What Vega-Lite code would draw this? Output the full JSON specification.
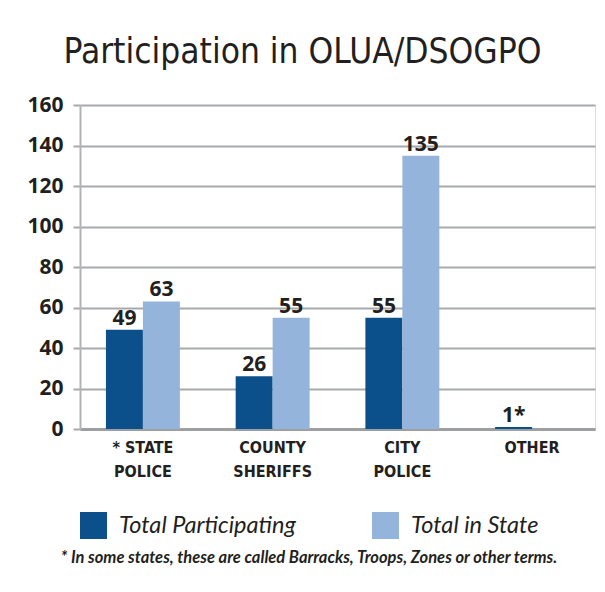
{
  "$schema": "https://vega.github.io/schema/vega-lite/v6.json",
  "width": 515,
  "height": 324,
  "autosize": "none",
  "padding": {"left": 80, "top": 105, "right": 10, "bottom": 163},
  "background": "white",
  "title": {
    "text": "Participation in OLUA/DSOGPO",
    "font": "DejaVu Sans Condensed",
    "fontSize": 35,
    "fontWeight": "normal",
    "color": "#231f20",
    "anchor": "middle",
    "frame": "group",
    "dx": -35,
    "offset": 24
  },
  "data": {
    "values": [
      {"category": "* STATE POLICE", "series": "Total Participating", "value": 49, "label": "49"},
      {"category": "* STATE POLICE", "series": "Total in State", "value": 63, "label": "63"},
      {"category": "COUNTY SHERIFFS", "series": "Total Participating", "value": 26, "label": "26"},
      {"category": "COUNTY SHERIFFS", "series": "Total in State", "value": 55, "label": "55"},
      {"category": "CITY POLICE", "series": "Total Participating", "value": 55, "label": "55"},
      {"category": "CITY POLICE", "series": "Total in State", "value": 135, "label": "135"},
      {"category": "OTHER", "series": "Total Participating", "value": 1, "label": "1*"}
    ]
  },
  "encoding": {
    "x": {
      "field": "category",
      "type": "nominal",
      "sort": ["* STATE POLICE", "COUNTY SHERIFFS", "CITY POLICE", "OTHER"],
      "scale": {"paddingInner": 0.43, "paddingOuter": 0.2},
      "axis": {
        "title": null,
        "labelAngle": 0,
        "labelFont": "DejaVu Sans Condensed",
        "labelFontSize": 16,
        "labelFontWeight": "bold",
        "labelColor": "#231f20",
        "labelPadding": 10,
        "labelLineHeight": 24,
        "labelBaseline": "top",
        "ticks": false,
        "domainColor": "#9d9fa2",
        "domainWidth": 3,
        "labelExpr": "lastindexof(datum.label, ' ') > 0 ? [slice(datum.label, 0, lastindexof(datum.label, ' ')), slice(datum.label, lastindexof(datum.label, ' ') + 1)] : datum.label"
      }
    },
    "xOffset": {
      "field": "series",
      "type": "nominal",
      "sort": ["Total Participating", "Total in State"],
      "scale": {"paddingInner": 0, "paddingOuter": 0}
    },
    "y": {
      "field": "value",
      "type": "quantitative",
      "scale": {"domain": [0, 160], "nice": false},
      "axis": {
        "title": null,
        "values": [0, 20, 40, 60, 80, 100, 120, 140, 160],
        "labelFont": "Open Sans",
        "labelFontSize": 21,
        "labelFontWeight": "bold",
        "labelColor": "#231f20",
        "labelPadding": 10,
        "tickSize": 7,
        "tickColor": "#a7a9ac",
        "tickWidth": 2,
        "gridColor": "#a7a9ac",
        "gridWidth": 2,
        "domainColor": "#b1b3b6",
        "domainWidth": 2
      }
    }
  },
  "layer": [
    {
      "mark": {"type": "bar"},
      "encoding": {
        "color": {
          "field": "series",
          "type": "nominal",
          "scale": {"domain": ["Total Participating", "Total in State"], "range": ["#0b4f8b", "#95b4db"]},
          "legend": {
            "orient": "none",
            "legendX": -20,
            "legendY": 407,
            "direction": "horizontal",
            "title": "* In some states, these are called Barracks, Troops, Zones or other terms.",
            "titleOrient": "bottom",
            "titleAnchor": "middle",
            "titleFont": "Lato",
            "titleFontSize": 16.5,
            "titleFontWeight": "bold",
            "titleFontStyle": "italic",
            "titleColor": "#231f20",
            "titlePadding": 11,
            "titleLimit": 700,
            "labelFont": "Lato",
            "labelFontSize": 23.5,
            "labelFontStyle": "italic",
            "labelColor": "#231f20",
            "labelLimit": 300,
            "labelOffset": 12,
            "symbolType": "square",
            "symbolSize": 729,
            "symbolStrokeWidth": 0,
            "symbolOpacity": 1,
            "columnPadding": 76,
            "padding": 0
          }
        }
      }
    },
    {
      "mark": {"type": "text", "baseline": "bottom", "dy": -1, "font": "Open Sans", "fontSize": 21, "fontWeight": "bold", "color": "#231f20"},
      "encoding": {"text": {"field": "label"}}
    }
  ]
}
